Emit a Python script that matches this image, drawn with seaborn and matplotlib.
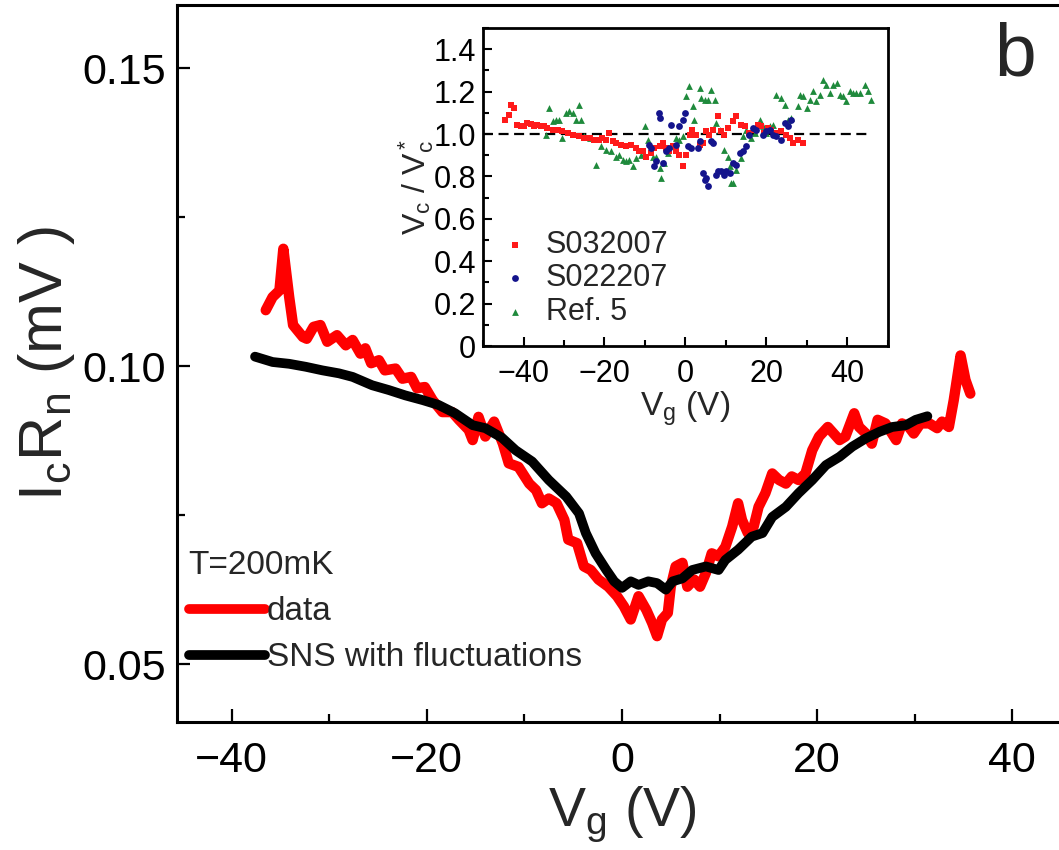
import numpy as np
import pandas as pd
import matplotlib
matplotlib.use("Agg")
import matplotlib.pyplot as plt
import seaborn as sns
from matplotlib.ticker import MultipleLocator


# Main panel: IcRn vs gate voltage
DATA_VG = [-36.5, -35.8, -35.1, -34.7, -34.1, -33.7, -32.7, -32.3, -31.6, -30.9,
           -30.2, -29.2, -28.3, -27.6, -26.8, -26.3, -25.7, -24.9, -24.3, -23.2,
           -22.5, -21.6, -21.0, -20.2, -19.4, -18.4, -17.4, -16.7, -15.7, -15.3,
           -14.7, -14.0, -13.1, -12.2, -11.6, -10.6, -9.5, -8.8, -8.2, -7.5,
           -6.7, -5.9, -5.5, -4.6, -3.9, -3.2, -2.4, -1.4, -0.5, 0.2,
           0.9, 1.7, 2.5, 3.1, 3.6, 4.1, 4.7, 5.0, 5.5, 6.2,
           6.7, 7.4, 8.0, 8.6, 9.2, 9.9, 10.6, 11.3, 11.9, 12.3,
           12.9, 13.5, 14.0, 14.7, 15.4, 16.1, 16.8, 17.4, 18.1, 18.8,
           19.5, 20.2, 21.1, 21.7, 22.3, 22.9, 23.8, 24.3, 25.0, 25.6,
           26.2, 27.0, 28.1, 28.7, 29.4, 29.9, 30.6, 31.5, 32.3, 32.8,
           33.5, 34.0, 34.7, 35.2, 35.7]
DATA_ICRN = [0.1094, 0.1116, 0.1127, 0.1197, 0.1116, 0.1069, 0.1049, 0.1046, 0.1066, 0.1069,
             0.1041, 0.1052, 0.1035, 0.1044, 0.1021, 0.1030, 0.1005, 0.1010, 0.0993, 0.0996,
             0.0979, 0.0982, 0.0963, 0.0965, 0.0943, 0.0923, 0.0923, 0.0910, 0.0893, 0.0876,
             0.0915, 0.0882, 0.0907, 0.0870, 0.0837, 0.0831, 0.0803, 0.0792, 0.0770, 0.0778,
             0.0770, 0.0742, 0.0709, 0.0703, 0.0664, 0.0658, 0.0642, 0.0630, 0.0614, 0.0597,
             0.0575, 0.0614, 0.0591, 0.0569, 0.0547, 0.0575, 0.0586, 0.0630, 0.0664, 0.0670,
             0.0630, 0.0642, 0.0630, 0.0653, 0.0686, 0.0681, 0.0697, 0.0731, 0.0770, 0.0742,
             0.0720, 0.0731, 0.0764, 0.0787, 0.0820, 0.0809, 0.0803, 0.0815, 0.0809, 0.0820,
             0.0859, 0.0882, 0.0898, 0.0887, 0.0876, 0.0882, 0.0921, 0.0898, 0.0887, 0.0870,
             0.0910, 0.0904, 0.0876, 0.0904, 0.0898, 0.0887, 0.0904, 0.0904, 0.0896, 0.0907,
             0.0898, 0.0943, 0.1018, 0.0977, 0.0954]

SNS_VG = [-37.6, -35.8, -34.1, -32.4, -30.7, -29.0, -27.6, -25.6, -23.9, -22.2,
          -20.4, -18.8, -17.1, -15.3, -14.0, -12.3, -10.9, -9.2, -7.5, -5.7,
          -4.4, -3.7, -2.7, -1.6, -0.8, 0.0, 0.9, 1.7, 2.7, 3.6,
          4.5, 5.2, 6.2, 7.2, 8.6, 9.9, 10.6, 11.9, 13.3, 14.4,
          15.4, 16.8, 18.1, 19.5, 20.9, 22.3, 23.6, 25.0, 26.4, 27.7,
          29.1, 30.1, 31.3]
SNS_ICRN = [0.1016, 0.1007, 0.1004, 0.0999, 0.0993, 0.0988, 0.0982, 0.0968, 0.0960, 0.0951,
            0.0943, 0.0935, 0.0921, 0.0901, 0.0896, 0.0880, 0.0859, 0.0840, 0.0809, 0.0781,
            0.0753, 0.0720, 0.0686, 0.0658, 0.0639, 0.0628, 0.0639, 0.0633, 0.0639, 0.0636,
            0.0625, 0.0639, 0.0644, 0.0658, 0.0664, 0.0658, 0.0675, 0.0692, 0.0714, 0.0720,
            0.0747, 0.0764, 0.0787, 0.0809, 0.0834, 0.0848, 0.0865, 0.0879, 0.0890, 0.0898,
            0.0901, 0.0910, 0.0916]

# Inset: normalised Vc / Vc*
S032007_VG = [-44.5, -43.7, -43.1, -42.3, -41.5, -40.7, -39.9, -39.1, -38.2, -37.4,
              -36.6, -35.8, -35.0, -34.1, -32.8, -31.6, -30.4, -29.1, -27.9, -26.2,
              -25.0, -23.7, -22.5, -21.3, -20.5, -19.6, -18.8, -18.0, -17.2, -16.0,
              -14.7, -13.5, -12.2, -11.4, -10.6, -9.7, -8.5, -7.7, -6.4, -5.6,
              -4.8, -4.0, -3.1, -2.3, -1.5, -0.7, 0.2, 1.0, 1.6, 2.6,
              3.5, 4.3, 5.1, 5.9, 6.8, 8.0, 8.8, 9.6, 10.5, 11.7,
              12.5, 13.8, 14.6, 15.8, 17.1, 17.9, 18.7, 19.5, 20.4, 21.2,
              22.4, 23.7, 24.9, 25.7, 26.6, 27.8, 29.0]
S032007_R = [1.068, 1.091, 1.139, 1.123, 1.044, 1.036, 1.039, 1.052, 1.049, 1.039,
             1.044, 1.036, 1.039, 1.028, 1.020, 1.020, 1.013, 1.005, 0.997, 0.989,
             0.981, 0.981, 0.973, 0.973, 0.981, 0.973, 1.005, 0.965, 0.957, 0.950,
             0.942, 0.950, 0.934, 0.918, 0.918, 0.894, 0.910, 0.934, 0.942, 0.957,
             0.934, 0.918, 0.942, 0.918, 0.902, 0.847, 0.902, 0.997, 1.020, 0.997,
             0.950, 0.957, 1.013, 0.997, 1.020, 1.083, 1.013, 0.997, 1.028, 1.060,
             1.083, 1.044, 1.036, 1.005, 1.020, 1.044, 1.036, 1.005, 1.028, 1.020,
             1.005, 1.013, 0.997, 0.981, 0.957, 0.973, 0.957]

S022207_VG = [-8.9, -8.5, -7.7, -7.4, -6.6, -6.4, -5.6, -4.8, -4.0, -3.5,
              -2.3, -1.5, -0.7, -0.2, 0.6, 1.4, 3.1, 3.5, 4.3, 4.7,
              5.1, 5.5, 6.4, 6.8, 7.6, 8.0, 8.8, 9.6, 10.1, 10.9,
              11.7, 12.5, 13.4, 14.2, 15.0, 15.8, 16.7, 17.5, 19.1, 19.9,
              20.8, 21.6, 22.4, 23.7, 24.5, 25.3, 26.1]
S022207_R = [0.950, 0.934, 0.847, 0.871, 1.099, 1.076, 0.863, 0.918, 0.934, 1.044,
             0.950, 1.036, 1.068, 1.099, 0.942, 0.934, 0.934, 0.965, 0.816, 0.784,
             0.792, 0.753, 0.965, 0.957, 0.808, 0.824, 0.824, 0.808, 0.824, 0.816,
             0.863, 0.855, 0.910, 0.918, 0.942, 0.997, 1.028, 1.020, 0.997, 1.013,
             1.020, 0.997, 0.989, 0.973, 1.052, 1.036, 1.068]

REF5_VG = [-34.5, -33.6, -32.8, -32.0, -31.2, -30.4, -29.5, -28.7, -27.9, -27.1,
           -26.2, -25.8, -25.0, -23.7, -22.1, -20.9, -19.6, -18.4, -17.2, -16.3,
           -15.5, -14.7, -13.9, -13.0, -12.2, -11.0, -10.1, -9.3, -8.1, -7.3,
           -6.4, -6.0, -5.2, -4.4, -3.1, -2.3, -1.5, -0.7, 0.2, 0.8,
           1.8, 2.2, 3.5, 3.9, 4.7, 5.5, 6.4, 7.2, 7.6, 8.4,
           9.6, 10.5, 10.9, 11.3, 11.7, 12.5, 13.8, 14.2, 15.0, 16.2,
           17.1, 18.3, 19.1, 19.9, 20.8, 21.6, 22.4, 23.7, 24.5, 25.3,
           26.1, 27.8, 28.2, 29.0, 29.9, 30.7, 31.5, 32.3, 33.2, 34.0,
           34.8, 35.6, 36.4, 37.3, 38.1, 38.9, 39.7, 40.5, 41.3, 42.2,
           43.1, 44.3, 45.1, 45.9]
REF5_R = [0.997, 1.123, 1.060, 1.068, 1.068, 0.981, 1.099, 1.107, 1.099, 1.068,
          1.139, 1.068, 0.989, 0.981, 0.855, 0.942, 0.926, 0.918, 0.894, 0.902,
          0.879, 0.871, 0.879, 0.847, 0.887, 0.902, 1.036, 0.973, 0.894, 0.894,
          0.839, 0.792, 0.863, 0.910, 0.942, 0.981, 0.973, 0.989, 1.178, 1.225,
          1.131, 1.068, 1.217, 1.170, 1.162, 1.162, 1.209, 1.162, 1.052, 1.020,
          0.926, 0.894, 0.847, 0.769, 0.769, 0.832, 0.887, 0.989, 1.020, 0.981,
          1.005, 1.068, 1.036, 1.005, 1.036, 1.044, 1.186, 1.170, 1.139, 1.068,
          1.076, 1.131, 1.186, 1.178, 1.123, 1.162, 1.202, 1.154, 1.186, 1.257,
          1.233, 1.194, 1.233, 1.241, 1.186, 1.178, 1.154, 1.202, 1.194, 1.194,
          1.194, 1.233, 1.202, 1.162]

# dashed guide at Vc / Vc* = 1
GUIDE_VG = [-50, 45.5]
GUIDE_R = [1.0, 1.0]


sns.set_theme(style="ticks")
plt.rcParams["font.family"] = ["Liberation Sans", "DejaVu Sans"]
plt.rcParams["mathtext.fontset"] = "custom"
plt.rcParams["mathtext.rm"] = "Liberation Sans"
plt.rcParams["mathtext.it"] = "Liberation Sans"
plt.rcParams["mathtext.default"] = "rm"

fig = plt.figure(figsize=(10.59, 8.5), dpi=100)

# ---- main panel ----
# right spine of the original figure lies just beyond the cropped edge
ax = fig.add_axes([0.1671, 0.1506, 0.8404, 0.8435])
sns.lineplot(x=DATA_VG, y=DATA_ICRN, ax=ax, color="#ff0000", linewidth=7.5,
             sort=False, estimator=None, label="data")
sns.lineplot(x=SNS_VG, y=SNS_ICRN, ax=ax, color="black", linewidth=7,
             sort=False, estimator=None, label="SNS with fluctuations")
for line in ax.get_lines():
    line.set_solid_capstyle("round")
    line.set_solid_joinstyle("round")

ax.set_xlim(-45.6, 45.6)
ax.set_ylim(0.0403, 0.1606)
ax.xaxis.set_major_locator(MultipleLocator(20))
ax.xaxis.set_minor_locator(MultipleLocator(10))
ax.yaxis.set_major_locator(MultipleLocator(0.05))
ax.yaxis.set_minor_locator(MultipleLocator(0.025))
ax.set_yticks([0.05, 0.10, 0.15])
ax.set_yticklabels(["0.05", "0.10", "0.15"])
ax.tick_params(which="both", direction="in", width=1.6, colors="black")
ax.tick_params(which="major", length=9.5)
ax.tick_params(which="minor", length=5.5)
ax.tick_params(axis="x", labelsize=31, pad=14)
ax.tick_params(axis="y", labelsize=31, pad=8)
for side in ["left", "bottom", "top", "right"]:
    ax.spines[side].set_linewidth(2.2)
    ax.spines[side].set_color("black")
ax.set_xlabel("V$_g$ (V)", fontsize=40, labelpad=2)
ax.set_ylabel("I$_c$R$_n$ (mV )", fontsize=44, labelpad=4)

leg = ax.legend(title="T=200mK", loc="lower left", bbox_to_anchor=(0.013, 0.068),
                frameon=False, fontsize=24, title_fontsize=24, alignment="left",
                handlelength=2.3, handletextpad=0.05, borderpad=0, borderaxespad=0,
                labelspacing=0.45)
for h in leg.legend_handles:
    h.set_linewidth(7)

# ---- inset ----
axin = fig.add_axes([0.4561, 0.5929, 0.3824, 0.3741])
axin.plot(GUIDE_VG, GUIDE_R, color="black", linestyle=(0, (4.5, 2.5)), linewidth=1.6, zorder=1)
sns.scatterplot(x=S032007_VG, y=S032007_R, ax=axin, color="#ff1a1a", marker="s",
                s=20, linewidth=0, label="S032007", zorder=3)
sns.scatterplot(x=S022207_VG, y=S022207_R, ax=axin, color="#14148c", marker="o",
                s=24, linewidth=0, label="S022207", zorder=4)
sns.scatterplot(x=REF5_VG, y=REF5_R, ax=axin, color="#1f8a3c", marker="^",
                s=24, linewidth=0, label="Ref. 5", zorder=2)

axin.set_xlim(-50, 50)
axin.set_ylim(0, 1.5)
axin.xaxis.set_major_locator(MultipleLocator(20))
axin.xaxis.set_minor_locator(MultipleLocator(10))
axin.yaxis.set_major_locator(MultipleLocator(0.2))
axin.yaxis.set_minor_locator(MultipleLocator(0.1))
axin.set_yticks([0, 0.2, 0.4, 0.6, 0.8, 1.0, 1.2, 1.4])
axin.set_yticklabels(["0", "0.2", "0.4", "0.6", "0.8", "1.0", "1.2", "1.4"])
axin.tick_params(which="both", direction="in", width=1.5, colors="black", labelsize=22)
axin.tick_params(which="major", length=6.5)
axin.tick_params(which="minor", length=4)
axin.tick_params(axis="x", pad=9)
axin.tick_params(axis="y", pad=5)
for side in ["left", "bottom", "top", "right"]:
    axin.spines[side].set_linewidth(2)
    axin.spines[side].set_color("black")
axin.set_xlabel("V$_g$ (V)", fontsize=24, labelpad=1)
axin.set_ylabel("V$_c$ / V$_c^*$", fontsize=23, labelpad=-2)

axin.legend(loc="lower left", bbox_to_anchor=(0.05, 0.06), frameon=False, fontsize=22,
            handlelength=0.8, handletextpad=0.6, borderpad=0, borderaxespad=0,
            labelspacing=0.12, markerscale=1.0)

fig.text(1015 / 1059, 1 - 56 / 850, "b", fontsize=54, ha="center", va="center")

fig.savefig("out.png", dpi=100)
